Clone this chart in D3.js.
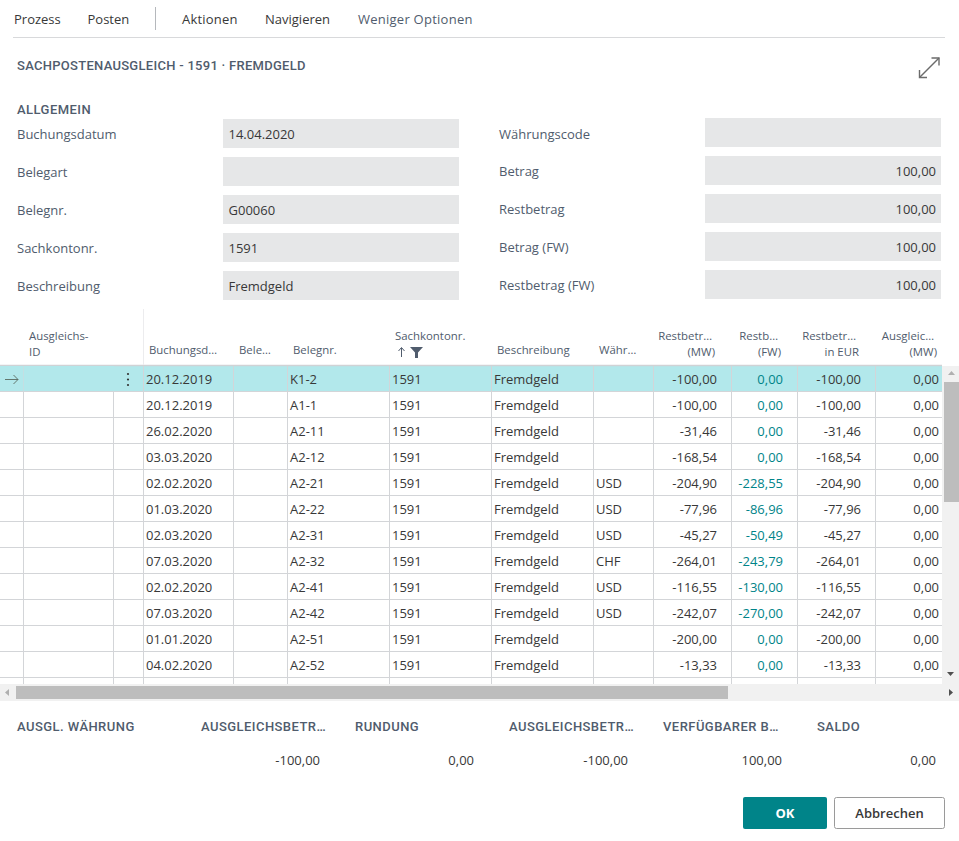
<!DOCTYPE html>
<html lang="de">
<head>
<meta charset="utf-8">
<script src="https://cdn.jsdelivr.net/npm/d3@7/dist/d3.min.js"></script>
<style>
html,body{margin:0;padding:0;background:#fff;overflow:hidden}
svg{display:block}
text{font-family:"Open Sans",sans-serif;font-size:13px;fill:#383838}
.lbl{fill:#505c6d}
.hdr{font-size:11.4px;fill:#505c6d}
.din{font-family:Roboto,sans-serif;font-weight:500;font-size:13px;fill:#505c6d;letter-spacing:.45px}
.din.ttl{letter-spacing:.28px}
</style>
</head>
<body>
<svg id="c" width="959" height="841"></svg>
<script>
const menuItems = ["Prozess","Posten","Aktionen","Navigieren","Weniger Optionen"];
const title = "SACHPOSTENAUSGLEICH - 1591 · FREMDGELD";
const sectionTitle = "ALLGEMEIN";
const leftLabels = ["Buchungsdatum","Belegart","Belegnr.","Sachkontonr.","Beschreibung"];
const leftValues = ["14.04.2020","","G00060","1591","Fremdgeld"];
const rightLabels = ["Währungscode","Betrag","Restbetrag","Betrag (FW)","Restbetrag (FW)"];
const rightValues = ["","100,00","100,00","100,00","100,00"];

const dates = ["20.12.2019","20.12.2019","26.02.2020","03.03.2020","02.02.2020","01.03.2020","02.03.2020","07.03.2020","02.02.2020","07.03.2020","01.01.2020","04.02.2020"];
const docNos = ["K1-2","A1-1","A2-11","A2-12","A2-21","A2-22","A2-31","A2-32","A2-41","A2-42","A2-51","A2-52"];
const accounts = ["1591","1591","1591","1591","1591","1591","1591","1591","1591","1591","1591","1591"];
const descriptions = ["Fremdgeld","Fremdgeld","Fremdgeld","Fremdgeld","Fremdgeld","Fremdgeld","Fremdgeld","Fremdgeld","Fremdgeld","Fremdgeld","Fremdgeld","Fremdgeld"];
const currencies = ["","","","","USD","USD","USD","CHF","USD","USD","",""];
const remainingLcy = [-100,-100,-31.46,-168.54,-204.90,-77.96,-45.27,-264.01,-116.55,-242.07,-200,-13.33];
const remainingFcy = [0,0,0,0,-228.55,-86.96,-50.49,-243.79,-130,-270,0,0];
const remainingEur = [-100,-100,-31.46,-168.54,-204.90,-77.96,-45.27,-264.01,-116.55,-242.07,-200,-13.33];
const appliedLcy = [0,0,0,0,0,0,0,0,0,0,0,0];

const footerLabels = ["AUSGL. WÄHRUNG","AUSGLEICHSBETR…","RUNDUNG","AUSGLEICHSBETR…","VERFÜGBARER B…","SALDO"];
const footerValues = [null,-100,0,-100,100,0];

const colKeys = ["arrow","applyId","menu","date","type","doc","acct","desc","cur","lcy","fcy","eur","appl"];
const colEdges = [0,23.5,113.5,143.5,233.5,287.5,389.5,491.5,593.5,653.5,731.5,797.5,875.5,942];

const fmt = d3.formatLocale({decimal:",",thousands:".",grouping:[3],currency:["","€"],minus:"-"}).format(",.2f");
const svg = d3.select("#c");
const GRID="#d3d5d8", FIELD="#e6e7e8", TEAL="#008489";

// toolbar
const menuX = d3.scaleOrdinal().domain(menuItems).range([14,87.5,182,265,358]);
svg.selectAll(".menu").data(menuItems).join("text").attr("class","menu")
  .attr("x",d=>menuX(d)).attr("y",24).text(d=>d)
  .style("fill",(d,i)=>i==4?"#505c6d":"#383838")
  .style("letter-spacing",(d,i)=>i==4?".25px":i==2?".2px":null);
svg.append("line").attr("x1",155.5).attr("x2",155.5).attr("y1",7).attr("y2",30).attr("stroke","#b5b8bc");
svg.append("line").attr("x1",13).attr("x2",945).attr("y1",37.5).attr("y2",37.5).attr("stroke","#d8d9db");

svg.append("text").attr("class","din ttl").attr("x",17).attr("y",70).text(title);
svg.append("text").attr("class","din").attr("x",17).attr("y",114).text(sectionTitle);

// expand icon
const ic = svg.append("g").attr("fill","none").attr("stroke","#6b6b6b").attr("stroke-width",1.4);
ic.append("path").attr("d","M919.5 77.5 L939 58");
ic.append("path").attr("d","M919.5 70 V77.5 H927");
ic.append("path").attr("d","M931.5 58 H939 V65.5");

// form fields
const formRow = d3.scaleBand().domain(d3.range(5)).range([119,309]);
leftLabels.forEach((l,i)=>{
  const y=formRow(i);
  svg.append("text").attr("class","lbl").attr("x",17).attr("y",y+20).text(l);
  svg.append("rect").attr("x",223).attr("y",y).attr("width",236).attr("height",29).attr("fill",FIELD);
  svg.append("text").attr("x",228.5).attr("y",y+19.5).text(leftValues[i]);
});
rightLabels.forEach((l,i)=>{
  const y=formRow(i)-1;
  svg.append("text").attr("class","lbl").attr("x",499).attr("y",y+20+(i==0?1:0)).text(l);
  svg.append("rect").attr("x",705).attr("y",y).attr("width",236).attr("height",29).attr("fill",FIELD);
  svg.append("text").attr("x",936).attr("y",y+20).attr("text-anchor","end").text(rightValues[i]);
});

// grid
const rowY = d3.scaleBand().domain(d3.range(dates.length)).range([366,678]);
const colX = d3.scaleOrdinal().domain(colKeys).range(colEdges);
const gridBottom=684;
svg.append("rect").attr("x",0).attr("y",rowY(0)).attr("width",942).attr("height",rowY.bandwidth()).attr("fill","#b2e8eb");
svg.append("line").attr("x1",0).attr("x2",942).attr("y1",365.5).attr("y2",365.5).attr("stroke","#d0d2d5").attr("stroke-width",1.5);
svg.selectAll(".rl").data(d3.range(dates.length)).join("line").attr("class","rl")
  .attr("x1",0).attr("x2",942)
  .attr("y1",d=>Math.round(rowY(d)+rowY.bandwidth())-.5).attr("y2",d=>Math.round(rowY(d)+rowY.bandwidth())-.5)
  .attr("stroke",GRID);
svg.selectAll(".cl").data(colKeys.slice(1)).join("line").attr("class","cl")
  .attr("x1",d=>colX(d)).attr("x2",d=>colX(d))
  .attr("y1",366).attr("y2",gridBottom).attr("stroke",GRID);
svg.append("rect").attr("x",0).attr("y",366).attr("width",114).attr("height",25).attr("fill","#b2e8eb");
svg.append("line").attr("x1",23.5).attr("x2",23.5).attr("y1",366).attr("y2",391).attr("stroke","#c4dfe2");
svg.append("line").attr("x1",143.5).attr("x2",143.5).attr("y1",309).attr("y2",365).attr("stroke","#ececee");

// headers
const header=(k,lines,anchor,dx)=>{
  const x=colX(k)+dx;
  lines.forEach((t,i)=>svg.append("text").attr("class","hdr").attr("x",x)
    .attr("y",lines.length==1?354:340+i*16).attr("text-anchor",anchor).text(t));
};
header("applyId",["Ausgleichs-","ID"],"start",5.5);
header("date",["Buchungsd…"],"start",5.5);
header("type",["Bele…"],"start",5.5);
header("doc",["Belegnr."],"start",5.5);
svg.append("text").attr("class","hdr").attr("x",395).attr("y",340).text("Sachkontonr.");
header("desc",["Beschreibung"],"start",5.5);
header("cur",["Währ…"],"start",5.5);
const rightHeader=(x,a,b)=>{
  svg.append("text").attr("class","hdr").attr("x",x-3).attr("y",340).attr("text-anchor","end").text(a);
  svg.append("text").attr("class","hdr").attr("x",x).attr("y",356).attr("text-anchor","end").text(b);
};
rightHeader(715,"Restbetr…","(MW)");
rightHeader(781,"Restb…","(FW)");
rightHeader(859,"Restbetr…","in EUR");
rightHeader(937,"Ausgleic…","(MW)");
// sort arrow + funnel
svg.append("path").attr("d","M401.5 357 V348 M398.5 351 L401.5 347.5 L404.5 351").attr("fill","none").attr("stroke","#505c6d").attr("stroke-width",1);
svg.append("path").attr("d","M410 347 H423 L418 352.5 V358 L415 358 V352.5 Z").attr("fill","#505c6d");

// row marks
svg.append("path").attr("d","M5 379.5 H18 M13.5 375 L18 379.5 L13.5 384").attr("fill","none").attr("stroke","#5a6a60").attr("stroke-width",.9);
svg.selectAll(".dot").data([-1,0,1]).join("circle").attr("class","dot").attr("cx",128)
  .attr("cy",d=>379.5+d*5.5).attr("r",1.1).attr("fill","#333");

// cells
const rowText=(values,key,dx,anchor,fill)=>{
  svg.append("g").selectAll("text").data(values).join("text")
    .attr("x",colX(key)+dx)
    .attr("y",(d,i)=>rowY(i)+rowY.bandwidth()/2+4.5)
    .attr("text-anchor",anchor).style("fill",fill||"#383838")
    .text(d=>typeof d==="number"?fmt(d):d);
};
rowText(dates,"date",2.5,"start");
rowText(docNos,"doc",2.5,"start");
rowText(accounts,"acct",2.5,"start");
rowText(descriptions,"desc",2.5,"start");
rowText(currencies,"cur",2.5,"start");
rowText(remainingLcy,"fcy",-14.5,"end");
rowText(remainingFcy,"eur",-14.5,"end",TEAL);
rowText(remainingEur,"appl",-14.5,"end");
rowText(appliedLcy,"appl",63.5,"end");

// scrollbars
svg.append("rect").attr("x",942).attr("y",366).attr("width",17).attr("height",318).attr("fill","#f1f1f1");
svg.append("rect").attr("x",944).attr("y",382).attr("width",15).attr("height",120).attr("fill","#bdbdbd");
svg.append("path").attr("d","M948 375 L951.5 371 L955 375 Z").attr("fill","#b0b0b0");
svg.append("path").attr("d","M947 672 L950.5 676 L954 672 Z").attr("fill","#505050");
svg.append("rect").attr("x",0).attr("y",684).attr("width",959).attr("height",17).attr("fill","#f1f1f1");
svg.append("rect").attr("x",16).attr("y",686).attr("width",712).attr("height",13).attr("fill","#bdbdbd");
svg.append("path").attr("d","M9 689 L5 692.5 L9 696 Z").attr("fill","#b0b0b0");
svg.append("path").attr("d","M949 689 L953 692.5 L949 696 Z").attr("fill","#505050");

// footer
footerLabels.forEach((l,i)=>{
  svg.append("text").attr("class","din").attr("x",[17,201,355,509,663,817][i]).attr("y",731).text(l);
  if(footerValues[i]!==null)
    svg.append("text").attr("x",[0,320,474,628,782,936][i]).attr("y",765).attr("text-anchor","end").text(fmt(footerValues[i]));
});

// buttons
svg.append("rect").attr("x",743).attr("y",797).attr("width",84).attr("height",32).attr("rx",2).attr("fill",TEAL);
svg.append("text").attr("x",785).attr("y",818).attr("text-anchor","middle").style("fill","#fff").style("font-weight",700).text("OK");
svg.append("rect").attr("x",834.5).attr("y",797.5).attr("width",110).attr("height",31).attr("rx",2).attr("fill","#fff").attr("stroke","#9a9a9a");
svg.append("text").attr("x",889.5).attr("y",818).attr("text-anchor","middle").style("font-weight",600).text("Abbrechen");
</script>
</body>
</html>
